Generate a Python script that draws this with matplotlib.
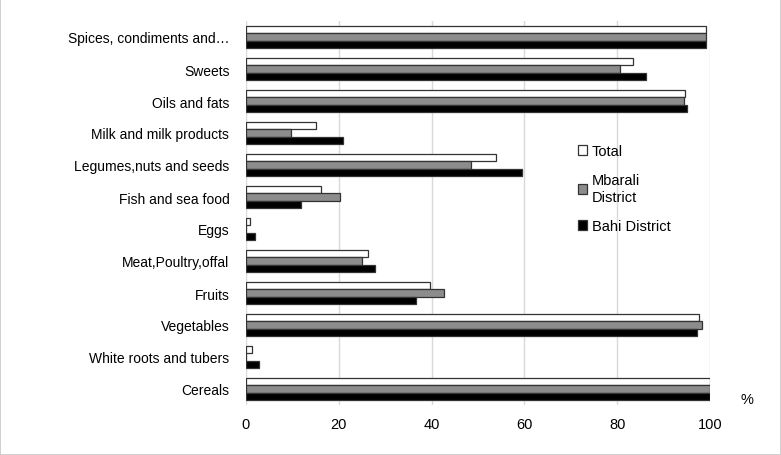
import matplotlib
matplotlib.use("Agg")
import matplotlib.pyplot as plt
import numpy as np

plt.rcParams['font.family'] = ['Liberation Sans', 'DejaVu Sans']

categories = ["Cereals", "White roots and tubers", "Vegetables", "Fruits",
              "Meat,Poultry,offal", "Eggs", "Fish and sea food",
              "Legumes,nuts and seeds", "Milk and milk products",
              "Oils and fats", "Sweets", "Spices, condiments and\u2026"]
total =   [100, 1.4, 97.6, 39.7, 26.4, 0.9, 16.1, 53.9, 15.1, 94.7, 83.5, 99.1]
mbarali = [100, 0.0, 98.2, 42.7, 25.1, 0.0, 20.3, 48.5,  9.6, 94.3, 80.7, 99.1]
bahi =    [100, 2.9, 97.2, 36.6, 27.7, 1.9, 11.9, 59.5, 20.8, 95.1, 86.2, 99.1]
series_names = ["Total", "Mbarali\nDistrict", "Bahi District"]
xticks = [0, 20, 40, 60, 80, 100]

fig = plt.figure(figsize=(7.81, 4.56), dpi=100)
fig.patch.set_edgecolor('#d0d0d0')
fig.patch.set_linewidth(1.2)
ax = fig.add_axes([246/781, 1-406/456, (710-246)/781, (406-22)/456])

y = np.arange(len(categories))
h = 0.22
colors = ['white', '#8c8c8c', 'black']
for k, (vals, c, name) in enumerate(zip([total, mbarali, bahi], colors, series_names)):
    ax.barh(y + (1 - k) * h, vals, height=h, color=c, edgecolor='#333333',
            linewidth=0.9, label=name, zorder=3)

ax.set_ylim(-0.5, len(categories) - 0.5)
ax.set_xlim(0, 100)
ax.set_yticks(y)
ax.set_yticklabels(categories, fontsize=10)
ax.set_xticks(xticks)
ax.set_xticklabels([str(t) for t in xticks], fontsize=10.5)
ax.tick_params(axis='y', length=0, pad=12)
ax.tick_params(axis='x', length=0, pad=9)
for s in ax.spines.values():
    s.set_visible(False)
ax.grid(axis='x', color='#d9d9d9', linewidth=1, zorder=0)
ax.text(1.08, 0.016, '%', transform=ax.transAxes, fontsize=10.5, ha='center', va='center')

leg = ax.legend(loc='upper left', bbox_to_anchor=(578/781, 1-145/456),
                bbox_transform=fig.transFigure, frameon=False, fontsize=10.5,
                handlelength=0.65, handleheight=0.65, handletextpad=0.3,
                labelspacing=1.05, borderpad=0, borderaxespad=0)

fig.savefig('out.png', dpi=100)
